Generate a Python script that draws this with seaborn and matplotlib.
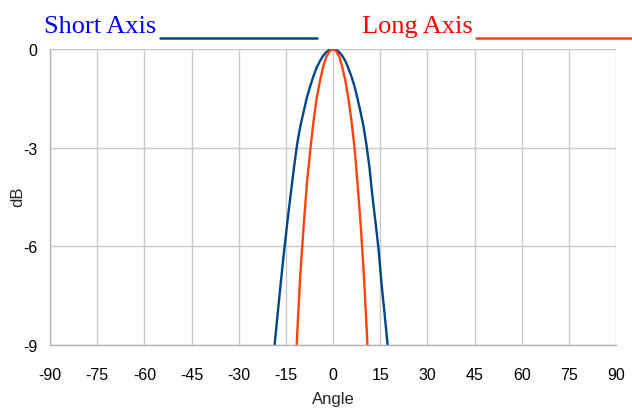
import seaborn as sns
import matplotlib.pyplot as plt
from matplotlib.lines import Line2D

# beam pattern readings (angle in degrees, level in dB)
short_angle = [-19.7, -18.6, -17.6, -16.6, -15.5, -14.5, -13.5, -12.4, -11.4, -10.4, -9.3, -8.3, -7.2,
               -6.2, -5.2, -4.1, -3.1, -2.1, -1.0, 0.0,
               1.0, 1.9, 2.9, 3.9, 4.8, 5.8, 6.8, 7.7, 8.7, 9.7, 10.6, 11.6, 12.5, 13.5, 14.5,
               15.4, 16.4, 17.4, 18.3]
short_db = [-10.2, -9.02, -8.05, -7.1, -6.1, -5.25, -4.45, -3.6, -2.89, -2.35, -1.89, -1.47, -1.12,
            -0.82, -0.56, -0.36, -0.2, -0.09, -0.02, 0.0,
            -0.02, -0.09, -0.2, -0.36, -0.56, -0.82, -1.12, -1.47, -1.89, -2.35, -2.89, -3.6, -4.45,
            -5.25, -6.1, -7.1, -8.05, -9.02, -10.2]

long_angle = [-12.4, -11.4, -10.4, -9.3, -8.3, -7.2, -6.2, -5.2, -4.1, -3.1, -2.1, -1.0, 0.0,
              1.0, 2.0, 2.9, 3.9, 4.9, 5.9, 6.9, 7.8, 8.8, 9.8, 10.8, 11.8]
long_db = [-11.0, -8.69, -6.85, -5.34, -4.09, -3.05, -2.2, -1.5, -0.95, -0.53, -0.23, -0.06, 0.0,
           -0.06, -0.23, -0.53, -0.95, -1.5, -2.2, -3.05, -4.09, -5.34, -6.85, -8.69, -11.0]

x_ticks = list(range(-90, 91, 15))
y_ticks = [0, -3, -6, -9]

sns.set_style('white')
plt.rcParams['font.family'] = ['Liberation Sans', 'DejaVu Sans']

fig = plt.figure(figsize=(6.32, 4.10), dpi=100)
ax = fig.add_axes([50 / 632, 1 - 346 / 410, 566 / 632, 296 / 410])

sns.lineplot(x=short_angle, y=short_db, color='#004586', lw=1.7, sort=False, ax=ax)
sns.lineplot(x=long_angle, y=long_db, color='#ff420e', lw=1.7, sort=False, ax=ax)

ax.set_xlim(-90, 90)
ax.set_ylim(-9, 0)
ax.set_xticks(x_ticks)
ax.set_yticks(y_ticks)
ax.set_xticklabels([str(t) for t in x_ticks])
ax.set_yticklabels([str(t) for t in y_ticks])
ax.grid(True, color='#c8c8c8', lw=1)
ax.set_axisbelow(True)
for s in ['top', 'right']:
    ax.spines[s].set_visible(False)
for s in ['left', 'bottom']:
    ax.spines[s].set_color('#b3b3b3')
    ax.spines[s].set_linewidth(1)
ax.tick_params(axis='both', which='major', direction='out', length=4, width=1,
               color='#b3b3b3', labelsize=11.5, labelcolor='black')
ax.tick_params(axis='x', pad=12)
ax.tick_params(axis='y', pad=5)
ax.set_xlabel('Angle', fontsize=12, labelpad=6)
ax.set_ylabel('')
fig.text(18 / 632, 1 - 197 / 410, 'dB', rotation=90, fontsize=12, ha='center', va='center')

# header legend
fig.text(44 / 632, 1 - 33 / 410, 'Short Axis', color='#0000ff', fontsize=19,
         family='Liberation Serif', va='baseline', ha='left')
fig.text(362 / 632, 1 - 33 / 410, 'Long Axis', color='#ff0000', fontsize=19,
         family='Liberation Serif', va='baseline', ha='left')
fig.add_artist(Line2D([160 / 632, 317 / 632], [1 - 39 / 410, 1 - 39 / 410],
                      color='#004586', lw=1.8, transform=fig.transFigure))
fig.add_artist(Line2D([476 / 632, 632 / 632], [1 - 39 / 410, 1 - 39 / 410],
                      color='#ff420e', lw=1.8, transform=fig.transFigure))

fig.savefig('out.png', dpi=100)
